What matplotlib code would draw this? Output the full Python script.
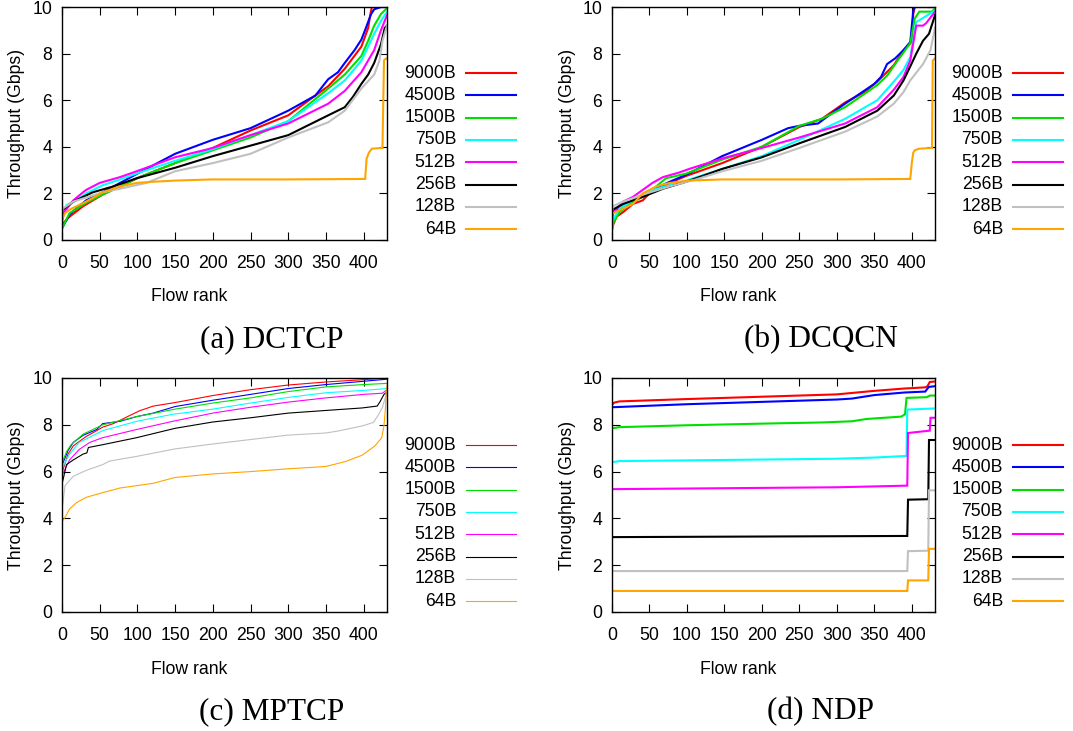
import matplotlib
matplotlib.use("Agg")
import matplotlib.pyplot as plt
from matplotlib.lines import Line2D

plt.rcParams['font.family'] = ['Liberation Sans', 'DejaVu Sans']

sizes = ['9000B', '4500B', '1500B', '750B', '512B', '256B', '128B', '64B']
colors = ['#ff0000', '#0000ff', '#00e000', '#00ffff', '#ff00ff', '#000000', '#c0c0c0', '#ffa500']
x_ticks = [0, 50, 100, 150, 200, 250, 300, 350, 400]
y_ticks = [0, 2, 4, 6, 8, 10]

# (a) DCTCP
dctcp_rank = [
    [0, 1, 10, 28, 54, 77, 103, 150, 200, 250, 300, 353, 375, 397, 406, 409, 411, 431],
    [0, 10, 32, 54, 77, 103, 150, 200, 250, 300, 336, 353, 366, 375, 388, 397, 403, 407, 410, 414, 423, 431],
    [0, 10, 32, 54, 77, 103, 150, 200, 250, 300, 353, 375, 397, 406, 414, 423, 431],
    [0, 6, 19, 32, 54, 77, 103, 150, 200, 250, 300, 353, 375, 397, 406, 414, 423, 431],
    [0, 3, 15, 28, 32, 50, 77, 99, 150, 200, 250, 300, 353, 375, 397, 414, 423, 431],
    [0, 1, 15, 41, 68, 99, 150, 200, 250, 300, 353, 375, 386, 397, 406, 414, 423, 428, 431],
    [0, 1, 15, 54, 77, 112, 150, 200, 250, 300, 353, 375, 397, 414, 421, 425, 431],
    [0, 4, 10, 32, 54, 77, 99, 121, 150, 200, 300, 402, 404, 407, 411, 425, 427, 428, 431],
]
dctcp_gbps = [
    [0.6, 0.7, 1.0, 1.45, 1.95, 2.3, 2.7, 3.3, 3.95, 4.7, 5.35, 6.6, 7.35, 8.3, 9.1, 9.7, 10, 10],
    [0.5, 1.1, 1.7, 2.05, 2.45, 2.9, 3.7, 4.3, 4.8, 5.55, 6.2, 6.9, 7.2, 7.6, 8.15, 8.6, 9.1, 9.45, 9.7, 9.9, 10, 10],
    [0.5, 1.15, 1.6, 1.95, 2.3, 2.7, 3.3, 3.85, 4.4, 5.1, 6.5, 7.1, 7.9, 8.55, 9.2, 9.7, 9.95],
    [0.9, 1.5, 1.7, 2.0, 2.35, 2.6, 2.9, 3.4, 3.9, 4.5, 5.1, 6.3, 6.85, 7.7, 8.3, 8.85, 9.4, 9.8],
    [0.8, 1.2, 1.7, 2.05, 2.15, 2.45, 2.7, 2.95, 3.55, 3.95, 4.5, 5.0, 5.85, 6.4, 7.2, 8.15, 9.0, 9.65],
    [0.9, 1.3, 1.65, 2.05, 2.3, 2.65, 3.1, 3.6, 4.05, 4.5, 5.35, 5.7, 6.15, 6.7, 7.1, 7.6, 8.4, 9.1, 9.2],
    [1.0, 1.35, 1.65, 2.05, 2.2, 2.45, 2.95, 3.3, 3.7, 4.4, 5.05, 5.55, 6.5, 7.1, 7.7, 8.55, 9.2],
    [0.9, 1.15, 1.3, 1.65, 2.05, 2.3, 2.45, 2.5, 2.55, 2.6, 2.6, 2.62, 3.5, 3.75, 3.92, 3.95, 7.7, 7.75, 7.8],
]

# (b) DCQCN
dcqcn_rank = [
    [0, 1, 6, 15, 28, 41, 50, 63, 77, 99, 147, 200, 250, 280, 311, 337, 354, 376, 389, 400, 402, 404, 431],
    [0, 1, 15, 37, 54, 77, 99, 147, 200, 235, 250, 275, 300, 311, 350, 359, 367, 378, 389, 398, 402, 404, 431],
    [0, 1, 10, 32, 46, 59, 72, 99, 147, 200, 250, 280, 311, 354, 367, 380, 398, 404, 410, 427, 431],
    [0, 1, 10, 28, 54, 99, 147, 200, 250, 311, 354, 376, 389, 398, 404, 406, 431],
    [0, 1, 15, 28, 41, 54, 68, 90, 103, 147, 200, 250, 311, 354, 376, 389, 398, 402, 406, 415, 419, 431],
    [0, 1, 15, 41, 68, 99, 147, 200, 250, 311, 354, 376, 389, 398, 406, 415, 423, 431],
    [0, 1, 15, 41, 77, 112, 147, 200, 250, 311, 354, 376, 389, 398, 415, 425, 431],
    [0, 1, 15, 28, 41, 59, 77, 103, 147, 200, 300, 398, 400, 402, 404, 410, 427, 428, 431],
]
dcqcn_gbps = [
    [0.45, 0.6, 1.0, 1.2, 1.55, 1.7, 2.0, 2.2, 2.45, 2.75, 3.3, 4.0, 4.85, 5.2, 5.9, 6.35, 6.8, 7.5, 8.15, 8.5, 9.7, 10, 10],
    [1.0, 1.15, 1.45, 1.85, 2.15, 2.5, 2.8, 3.6, 4.3, 4.8, 4.9, 5.0, 5.6, 5.85, 6.7, 7.0, 7.55, 7.8, 8.15, 8.5, 9.85, 10, 10],
    [0.4, 0.7, 1.2, 1.7, 1.95, 2.3, 2.65, 2.85, 3.45, 4.0, 4.9, 5.2, 5.7, 6.65, 7.05, 7.65, 8.45, 9.5, 9.8, 9.8, 9.95],
    [0.4, 0.85, 1.35, 1.7, 2.15, 2.55, 3.05, 3.6, 4.3, 5.2, 6.0, 6.8, 7.3, 7.85, 9.0, 9.35, 9.85],
    [0.7, 1.15, 1.65, 1.85, 2.15, 2.45, 2.7, 2.9, 3.05, 3.5, 3.95, 4.4, 5.0, 5.7, 6.45, 7.0, 7.7, 8.45, 9.2, 9.2, 9.3, 9.8],
    [1.05, 1.3, 1.55, 1.85, 2.2, 2.5, 3.05, 3.55, 4.15, 4.85, 5.55, 6.2, 6.85, 7.45, 8.0, 8.55, 8.85, 9.65],
    [1.2, 1.45, 1.65, 1.95, 2.3, 2.6, 2.95, 3.4, 3.95, 4.65, 5.3, 5.85, 6.35, 6.85, 7.55, 8.15, 9.1],
    [1.1, 1.15, 1.35, 1.55, 2.0, 2.3, 2.45, 2.55, 2.6, 2.6, 2.6, 2.62, 3.3, 3.75, 3.85, 3.92, 3.95, 7.7, 7.8],
]

# (c) MPTCP
mptcp_rank = [
    [0, 1, 8, 15, 32, 46, 54, 68, 90, 103, 121, 150, 200, 250, 300, 350, 400, 431],
    [0, 1, 8, 15, 28, 46, 54, 77, 99, 121, 150, 200, 250, 300, 350, 400, 431],
    [0, 1, 6, 12, 28, 54, 99, 150, 200, 250, 300, 350, 400, 431],
    [0, 1, 10, 23, 54, 99, 147, 200, 250, 300, 350, 400, 431],
    [0, 1, 10, 23, 37, 54, 99, 147, 200, 250, 300, 350, 400, 425, 431],
    [0, 1, 6, 15, 28, 33, 35, 54, 99, 150, 200, 250, 300, 353, 398, 418, 422, 427, 431],
    [0, 1, 4, 15, 32, 54, 63, 99, 150, 200, 250, 300, 350, 367, 398, 413, 420, 425, 430, 431],
    [0, 1, 5, 10, 19, 32, 54, 77, 99, 121, 150, 200, 250, 300, 350, 376, 398, 415, 424, 427, 429, 430, 431],
]
mptcp_gbps = [
    [5.9, 6.05, 6.75, 7.1, 7.5, 7.75, 7.9, 8.05, 8.4, 8.6, 8.8, 8.95, 9.25, 9.5, 9.7, 9.83, 9.93, 10.0],
    [6.2, 6.35, 6.9, 7.25, 7.55, 7.8, 8.05, 8.15, 8.35, 8.5, 8.78, 9.05, 9.3, 9.55, 9.72, 9.86, 9.95],
    [6.3, 6.45, 6.85, 7.15, 7.6, 8.0, 8.35, 8.67, 8.93, 9.15, 9.42, 9.62, 9.72, 9.77],
    [5.9, 6.2, 6.75, 7.25, 7.75, 8.15, 8.45, 8.67, 8.93, 9.17, 9.37, 9.47, 9.55],
    [5.6, 5.9, 6.5, 6.95, 7.25, 7.45, 7.8, 8.15, 8.5, 8.75, 8.97, 9.15, 9.3, 9.35, 9.5],
    [5.5, 5.6, 6.3, 6.5, 6.75, 6.8, 7.03, 7.15, 7.45, 7.85, 8.12, 8.3, 8.5, 8.62, 8.72, 8.8, 9.0, 9.3, 9.4],
    [4.5, 4.6, 5.4, 5.8, 6.05, 6.3, 6.45, 6.65, 6.97, 7.18, 7.37, 7.56, 7.65, 7.74, 7.95, 8.1, 8.45, 8.75, 9.3, 9.5],
    [3.85, 3.9, 4.1, 4.4, 4.67, 4.9, 5.1, 5.3, 5.4, 5.5, 5.75, 5.9, 6.0, 6.12, 6.22, 6.43, 6.7, 7.1, 7.45, 7.96, 8.74, 9.4, 9.7],
]

# (d) NDP
ndp_rank = [
    [0, 3, 10, 100, 200, 300, 350, 390, 418, 421, 424, 431],
    [0, 100, 200, 300, 320, 350, 390, 418, 421, 423, 431],
    [0, 10, 100, 200, 280, 320, 340, 386, 391, 393, 420, 424, 431],
    [0, 10, 100, 300, 350, 393, 394, 431],
    [0, 300, 394, 395, 424, 425, 431],
    [0, 394, 395, 422, 423, 431],
    [0, 394, 395, 422, 423, 431],
    [0, 394, 395, 422, 423, 431],
]
ndp_gbps = [
    [8.85, 8.95, 9.0, 9.1, 9.2, 9.3, 9.45, 9.55, 9.6, 9.65, 9.83, 9.85],
    [8.75, 8.88, 8.98, 9.08, 9.12, 9.27, 9.38, 9.42, 9.55, 9.62, 9.65],
    [7.85, 7.9, 7.98, 8.05, 8.1, 8.15, 8.25, 8.35, 8.45, 9.15, 9.18, 9.25, 9.25],
    [6.4, 6.45, 6.48, 6.55, 6.6, 6.67, 8.65, 8.7],
    [5.25, 5.33, 5.4, 7.65, 7.75, 8.3, 8.3],
    [3.2, 3.25, 4.8, 4.82, 7.35, 7.35],
    [1.75, 1.75, 2.6, 2.62, 5.2, 5.2],
    [0.9, 0.9, 1.35, 1.35, 2.7, 2.7],
]

W, H = 1073, 731
fig = plt.figure(figsize=(W / 100, H / 100), dpi=100)


def fx(x):
    return x / W


def fy(y):
    return 1 - y / H


# left, top, right, bottom (px), legend text right edge, first legend row y, caption
panels = [
    (dctcp_rank, dctcp_gbps, '(a) DCTCP', 62, 7, 387, 240, 456, 73, 1.5),
    (dcqcn_rank, dcqcn_gbps, '(b) DCQCN', 612, 7, 935, 240, 1003, 73, 1.5),
    (mptcp_rank, mptcp_gbps, '(c) MPTCP', 62, 378, 387, 612, 456, 445, 0.8),
    (ndp_rank, ndp_gbps, '(d) NDP', 612, 378, 935, 612, 1003, 445, 1.5),
]

for ranks, gbps, caption, l, t, r, b, lx, ly, lw in panels:
    ax = fig.add_axes([fx(l), fy(b), fx(r - l), (b - t) / H])
    for xs, ys, c in zip(ranks, gbps, colors):
        ax.plot(xs, ys, color=c, lw=lw, solid_joinstyle='miter')
    ax.set_xlim(0, 431)
    ax.set_ylim(0, 10)
    ax.set_xticks(x_ticks)
    ax.set_yticks(y_ticks)
    ax.tick_params(direction='in', length=6, width=0.8, top=True, right=True,
                   labelsize=12.7, colors='black')
    ax.tick_params(axis='x', pad=11)
    ax.tick_params(axis='y', pad=7)
    for s in ax.spines.values():
        s.set_linewidth(1.0)

    # axis titles
    fig.text(fx((l + r) / 2 - 35), fy(b + 57), 'Flow rank', ha='center', va='center', fontsize=12.7)
    fig.text(fx(l - 45), fy((t + b) / 2), 'Throughput (Gbps)', rotation=90,
             ha='center', va='center', fontsize=12.7)
    fig.text(fx((l + r) / 2 + 47), fy(b + 100), caption, ha='center', va='center',
             fontsize=22.5, family=['Liberation Serif', 'DejaVu Serif'])

    # legend drawn to the right of each panel
    for i, (name, c) in enumerate(zip(sizes, colors)):
        yy = ly + i * 22.3
        fig.text(fx(lx), fy(yy), name, ha='right', va='center', fontsize=12.7)
        fig.add_artist(Line2D([fx(lx + 10), fx(lx + 60)], [fy(yy), fy(yy)],
                              transform=fig.transFigure, color=c, lw=lw))

fig.savefig('out.png', dpi=100)
